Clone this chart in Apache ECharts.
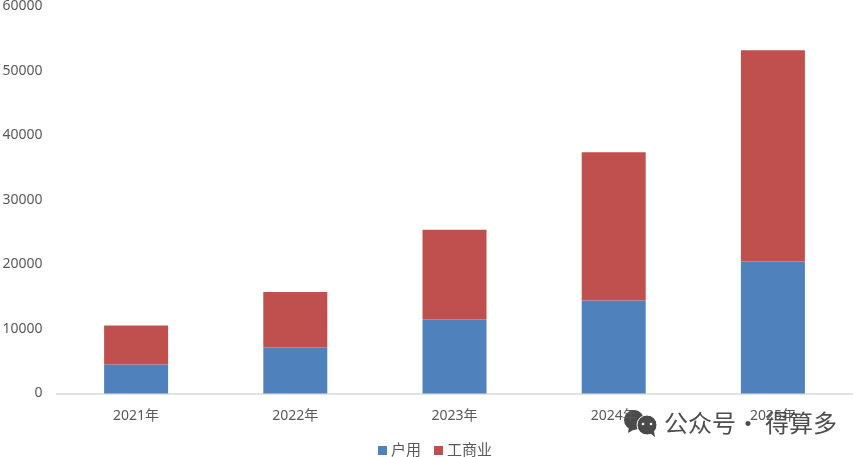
<!DOCTYPE html>
<html><head><meta charset="utf-8">
<style>html,body{margin:0;padding:0;background:#fff}#c{width:865px;height:457px}</style>
<script src="https://cdn.jsdelivr.net/npm/echarts@6/dist/echarts.min.js"></script>
</head><body><div id="c"></div>
<script>
const categories=['2021年','2022年','2023年','2024年','2025年'];
const household=[4500,7130,11470,14420,20470];
const commercial=[6040,8600,13900,23000,32750];
const seriesNames=['户用','工商业'];
const font='"Noto Sans","Noto Sans CJK SC",sans-serif';
const chart=echarts.init(document.getElementById('c'),null,{renderer:'canvas'});
chart.setOption({
 animation:false,
 backgroundColor:'#fff',
 grid:{left:56.5,right:12.5,top:6.5,bottom:63.5,containLabel:false,outerBoundsMode:'none'},
 legend:{top:435,left:373,itemWidth:9,itemHeight:9,itemGap:13,icon:'rect',
  textStyle:{color:'#595959',fontSize:15,lineHeight:18,fontFamily:font,padding:[0,0,3,-1]},data:seriesNames},
 xAxis:{type:'category',data:categories,axisTick:{show:false},
  axisLine:{lineStyle:{color:'#d9d9d9',width:1.5}},
  axisLabel:{color:'#595959',fontSize:14,lineHeight:16,fontFamily:font,margin:15}},
 yAxis:{type:'value',min:0,max:60000,interval:10000,splitLine:{show:false},axisLine:{show:false},axisTick:{show:false},
  axisLabel:{color:'#595959',fontSize:14,lineHeight:16,fontFamily:font,margin:14,padding:[4,0,0,0],formatter:v=>String(v)}},
 series:[
  {name:seriesNames[0],type:'bar',stack:'t',barWidth:64,data:household,itemStyle:{color:'#4f81bd'}},
  {name:seriesNames[1],type:'bar',stack:'t',barWidth:64,data:commercial,itemStyle:{color:'#c0504d'}}
 ],
 graphic:[
  {type:'group',left:624,top:410,z:100,children:[
    {type:'circle',shape:{cx:10,cy:12,r:10},style:{fill:'#4a4a4a'}},
    {type:'polygon',shape:{points:[[5,19],[4,25],[11,21]]},style:{fill:'#4a4a4a'}},
    {type:'circle',shape:{cx:23,cy:17,r:10},style:{fill:'#4a4a4a',stroke:'#fff',lineWidth:1}},
    {type:'polygon',shape:{points:[[26,25],[31,29],[30,23]]},style:{fill:'#4a4a4a'}},
    {type:'circle',shape:{cx:19,cy:16,r:1.3},style:{fill:'#fff'}},
    {type:'circle',shape:{cx:27,cy:16,r:1.3},style:{fill:'#fff'}}
  ]},
  {type:'text',left:664,top:411,z:100,style:{text:'公众号',fill:'#4d4d4d',font:'24px "Noto Sans CJK SC"'}},
  {type:'text',left:736,top:411,z:100,style:{text:'·',fill:'#4d4d4d',font:'24px "Noto Sans CJK SC"'}},
  {type:'text',left:765,top:411,z:100,style:{text:'得算多',fill:'#4d4d4d',font:'24px "Noto Sans CJK SC"'}}
 ]
});
</script></body></html>
